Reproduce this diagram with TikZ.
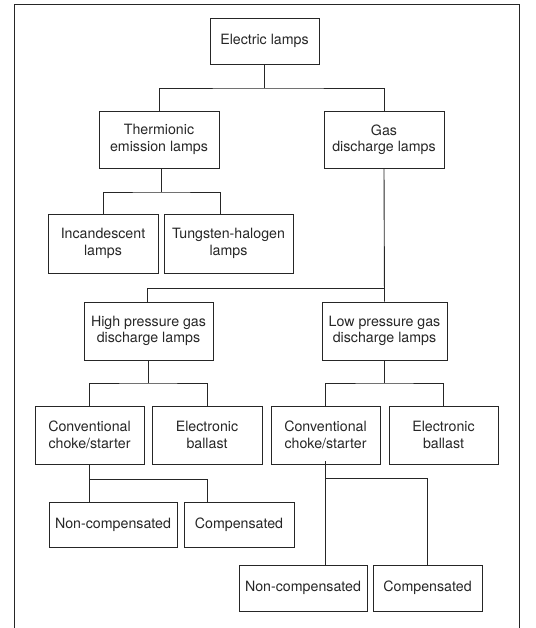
\documentclass[tikz,border=0pt]{standalone}
\usepackage{fontspec}
\setmainfont{TeX Gyre Heros}
\tikzset{
	box/.style={draw=black!85, line width=0.9pt, align=center, inner sep=0pt, text=black!85,
		font=\fontsize{14.2}{16.5}\selectfont},
	link/.style={draw=black!85, line width=0.9pt}
}
\begin{document}
\begin{tikzpicture}[x=1pt,y=-1pt]
		\useasboundingbox (0,0) rectangle (535,628);
		\draw[link] (14,628) -- (14,4) -- (519,4) -- (519,628);

		\node[box, minimum width=109, minimum height=46] (elec) at (264.5,41) {Electric lamps};
		\node[box, minimum width=120, minimum height=57] (therm) at (159,139.5) {Thermionic\\emission lamps};
		\node[box, minimum width=120, minimum height=57] (gas) at (384,139.5) {Gas\\discharge lamps};
		\node[box, minimum width=110, minimum height=59] (inc) at (103,243.5) {Incandescent\\lamps};
		\node[box, minimum width=129, minimum height=59] (tung) at (228.5,243.5) {Tungsten-halogen\\lamps};
		\node[box, minimum width=129, minimum height=58] (high) at (148.5,331) {High pressure gas\\discharge lamps};
		\node[box, minimum width=125, minimum height=58] (low) at (384.5,331) {Low pressure gas\\discharge lamps};
		\node[box, minimum width=109, minimum height=58] (conv1) at (89.5,435) {Conventional\\choke/starter};
		\node[box, minimum width=110, minimum height=58] (ebal1) at (207,435) {Electronic\\ballast};
		\node[box, minimum width=109, minimum height=58] (conv2) at (325.5,435) {Conventional\\choke/starter};
		\node[box, minimum width=109, minimum height=58] (ebal2) at (443.5,435) {Electronic\\ballast};
		\node[box, minimum width=128, minimum height=45] (nc1) at (113,524.5) {Non-compensated};
		\node[box, minimum width=110, minimum height=45] (cp1) at (239,524.5) {Compensated};
		\node[box, minimum width=128, minimum height=46] (nc2) at (303,588) {Non-compensated};
		\node[box, minimum width=109, minimum height=46] (cp2) at (427.5,588) {Compensated};

		\coordinate (j1) at (264.5,88);
		\coordinate (j2) at (161,192);
		\coordinate (j3) at (384,288);
		\coordinate (j4) at (148,383);
		\coordinate (j5) at (384.5,383);
		\coordinate (j6) at (89.5,479);
		\coordinate (j7) at (325.5,478);

		\draw[link] (elec.south) -- (j1);
		\draw[link] (therm.north) |- (j1) -| (gas.north);
		\draw[link] ([xshift=2pt]therm.south) -- (j2);
		\draw[link] (inc.north) |- (j2) -| ([xshift=-8.5pt]tung.north);
		\draw[link] (gas.south) -- (low.north);
		\draw[link] (j3) -| ([xshift=-1.5pt]high.north);
		\draw[link] ([xshift=-0.5pt]high.south) -- (j4);
		\draw[link] (conv1.north) |- (j4) -| (ebal1.north);
		\draw[link] (low.south) -- (j5);
		\draw[link] (conv2.north) |- (j5) -| (ebal2.north);
		\draw[link] (conv1.south) -- (nc1.north -| conv1.south);
		\draw[link] (j6) -| (cp1.north -| ebal1.south);
		\draw[link] ([yshift=3pt]conv2.south) -- (nc2.north -| conv2.south);
		\draw[link] (j7) -| (cp2.north);
	\end{tikzpicture}
\end{document}
